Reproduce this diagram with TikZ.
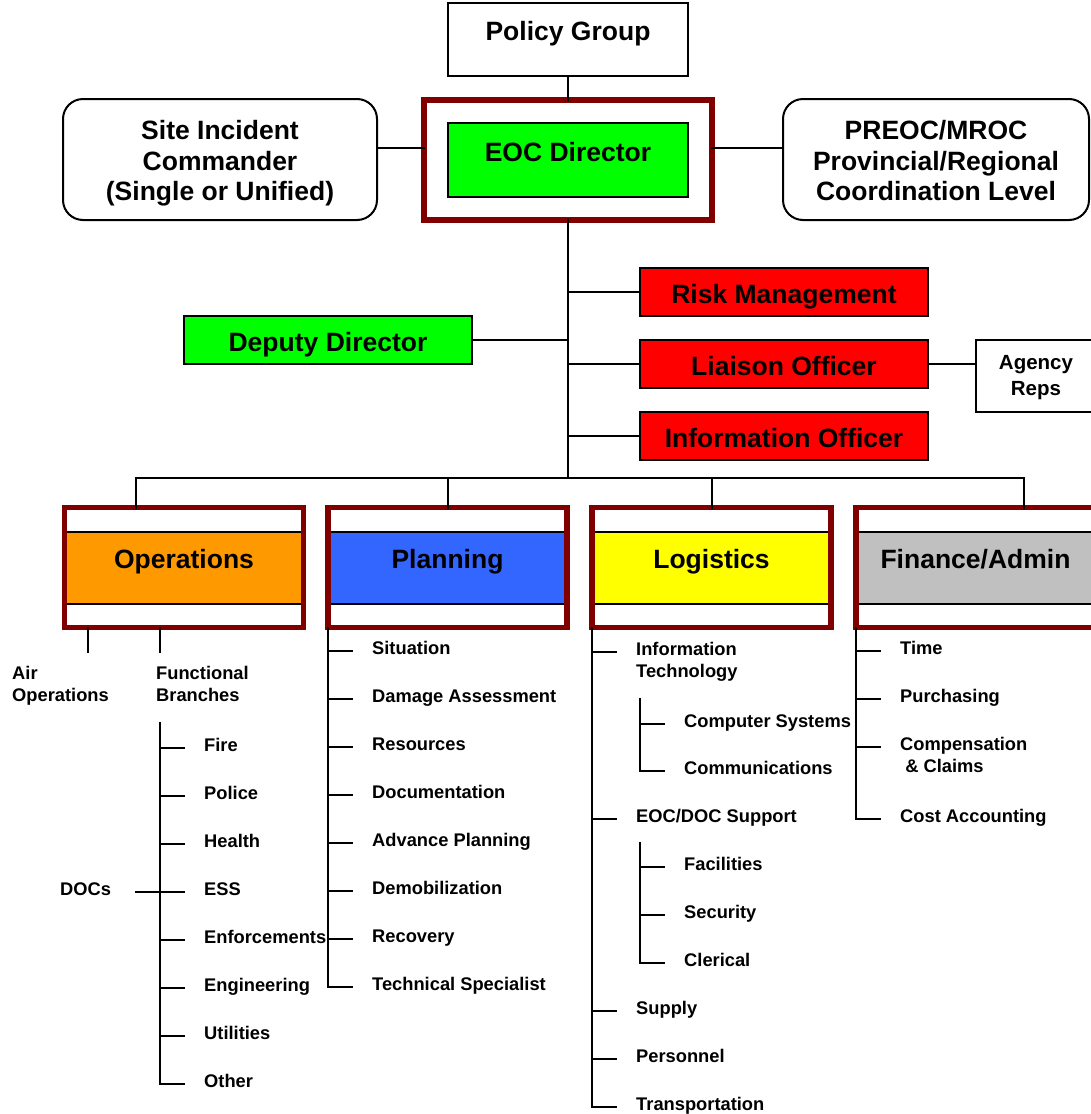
\documentclass[tikz,border=0pt]{standalone}
\usepackage{fontspec}
\setmainfont{Liberation Sans}
\newcommand\FBig{\fontsize{26.5}{30.5}\selectfont\bfseries}
\newcommand\FMid{\fontsize{20.5}{26}\selectfont\bfseries}
\newcommand\FSmall{\fontsize{18.3}{21.5}\selectfont\bfseries}
\definecolor{dred}{RGB}{128,0,0}
\definecolor{eocgreen}{RGB}{0,255,0}
\definecolor{cmdred}{RGB}{255,0,0}
\definecolor{opsorange}{RGB}{255,153,0}
\definecolor{planblue}{RGB}{51,102,255}
\definecolor{logyellow}{RGB}{255,255,0}
\definecolor{fingray}{RGB}{192,192,192}
\tikzset{
  conn/.style={line width=2pt, line cap=rect},
  plainbox/.style={draw, line width=2pt, inner sep=0pt},
  shell/.style={draw=dred, line width=5.5pt, inner sep=0pt, outer sep=0pt},
  band/.style={draw, line width=2pt, inner sep=0pt, minimum width=239, minimum height=72},
  bigtext/.style={font=\FBig, inner sep=0pt, text height=19pt, text depth=0pt},
  multitext/.style={font=\FBig, inner sep=0pt, align=center, anchor=north},
  leaf/.style={font=\FSmall, inner sep=0pt, anchor=west, text height=13.1pt, text depth=0pt},
  leaftwo/.style={font=\FSmall, inner sep=0pt, align=left, anchor=north west},
}
% one list entry: name, trunk x, cap-centre y, text
\newcommand\leafitem[4]{%
  \node[leaf] (#1) at (#2+44,#3) {#4};
  \draw[conn] ([xshift=-44pt,yshift=-3pt]#1.west) -- ++(24,0);}
\begin{document}
\begin{tikzpicture}[x=1pt,y=-1pt]
\useasboundingbox (0,0) rectangle (1091,1114);
\fill[white] (0,0) rectangle (1091,1114);
\clip (0,0) rectangle (1091,1114);

% ---------- top level ----------
\node[plainbox, minimum width=240, minimum height=73] (policy) at (568,39.5) {};
\node[bigtext] (policyT) at (568,31) {Policy Group};

\node[shell, minimum width=288, minimum height=120] (eocshell) at (568,160) {};
\node[plainbox, fill=eocgreen, minimum width=240, minimum height=74] (eoc) at (568,160) {};
\node[bigtext] (eocT) at (568,152) {EOC Director};

\node[plainbox, rounded corners=20, minimum width=314, minimum height=121] (site) at (220,159.5) {};
\node[multitext] (siteT) at (220,120.3) {Site Incident\\Commander\\(Single or Unified)};

\node[plainbox, rounded corners=20, minimum width=306, minimum height=121] (preoc) at (936,159.5) {};
\node[multitext] (preocT) at (936,120.3) {PREOC/MROC\\Provincial/Regional\\Coordination Level};

\coordinate (hline) at (0,148);
\draw[conn] (policy) -- (eocshell);
\draw[conn] (site.east |- hline) -- (eocshell.west |- hline);
\draw[conn] (eocshell.east |- hline) -- (preoc.west |- hline);

% ---------- command staff ----------
\node[plainbox, fill=eocgreen, minimum width=288, minimum height=48] (deputy) at (328,340) {};
\node[bigtext] (deputyT) at (328,342) {Deputy Director};
\node[plainbox, fill=cmdred, minimum width=288, minimum height=48] (risk) at (784,292) {};
\node[bigtext] (riskT) at (784,294) {Risk Management};
\node[plainbox, fill=cmdred, minimum width=288, minimum height=48] (liaison) at (784,364) {};
\node[bigtext] (liaisonT) at (784,366) {Liaison Officer};
\node[plainbox, fill=cmdred, minimum width=288, minimum height=48] (info) at (784,436) {};
\node[bigtext] (infoT) at (784,437.5) {Information Officer};
\node[plainbox, minimum width=120, minimum height=72] (agency) at (1036,376) {};
\node[font=\FMid, inner sep=0pt, align=center, anchor=north] (agencyT) at (1036,355.6) {Agency\\Reps};

\coordinate (bar) at (568,478);
\draw[conn] (eocshell.south) -- (bar);
\draw[conn] (deputy.east) -- (deputy.east -| bar);
\draw[conn] (risk.west -| bar) -- (risk.west);
\draw[conn] (liaison.west -| bar) -- (liaison.west);
\draw[conn] (info.west -| bar) -- (info.west);
\draw[conn] (liaison.east) -- (agency.west |- liaison.east);

% ---------- sections ----------
\node[band, fill=opsorange] (opsband) at (184,568) {};
\node[band, fill=planblue] (planband) at (447.5,568) {};
\node[band, fill=logyellow] (logband) at (711.5,568) {};
\node[band, fill=fingray] (finband) at (975.5,568) {};
\node[shell, minimum width=239, minimum height=120] (ops) at (184,567.5) {};
\node[shell, minimum width=239, minimum height=120] (plan) at (447.5,567.5) {};
\node[shell, minimum width=239, minimum height=120] (logi) at (711.5,567.5) {};
\node[shell, minimum width=239, minimum height=120] (fin) at (975.5,567.5) {};
\node[bigtext] (opsT) at (184,559) {Operations};
\node[bigtext] (planT) at (447.5,559) {Planning};
\node[bigtext] (logiT) at (711.5,559) {Logistics};
\node[bigtext] (finT) at (975.5,559) {Finance/Admin};

\coordinate (dA) at (136,478);
\coordinate (dB) at (448,478);
\coordinate (dC) at (712,478);
\coordinate (dD) at (1024,478);
\draw[conn] (dA) -- (dD);
\draw[conn] (dA) -- (dA |- ops.north);
\draw[conn] (dB) -- (dB |- plan.north);
\draw[conn] (dC) -- (dC |- logi.north);
\draw[conn] (dD) -- (dD |- fin.north);

% ---------- Operations ----------
\coordinate (airdrop) at (88,652);
\coordinate (fbdrop) at (160,652);
\draw[conn] (airdrop |- ops.south) -- (airdrop);
\draw[conn] (fbdrop |- ops.south) -- (fbdrop);
\node[leaftwo] (air) at (12,666.2) {Air\\Operations};
\node[leaftwo] (fb) at (156,666.2) {Functional\\Branches};
\coordinate (fbtop) at (160,723);
\leafitem{fire}{160}{745}{Fire}
\leafitem{police}{160}{793}{Police}
\leafitem{health}{160}{841}{Health}
\leafitem{ess}{160}{889}{ESS}
\leafitem{enf}{160}{937}{Enforcements}
\leafitem{eng}{160}{985}{Engineering}
\leafitem{util}{160}{1033}{Utilities}
\leafitem{other}{160}{1081}{Other}
\draw[conn] (fbtop) -- ([xshift=-44pt,yshift=-3pt]other.west);
\node[leaf] (docs) at (60,889) {DOCs};
\draw[conn] ([xshift=25pt,yshift=-3pt]docs.east) -- ([xshift=-44pt,yshift=-3pt]ess.west);

% ---------- Planning ----------
\leafitem{sit}{328}{648}{Situation}
\leafitem{dmg}{328}{696}{Damage Assessment}
\leafitem{res}{328}{744}{Resources}
\leafitem{doc}{328}{792}{Documentation}
\leafitem{adv}{328}{840}{Advance Planning}
\leafitem{demob}{328}{888}{Demobilization}
\leafitem{recov}{328}{936}{Recovery}
\leafitem{tech}{328}{984}{Technical Specialist}
\draw[conn] (plan.south west) -- ([xshift=-44pt,yshift=-3pt]tech.west);

% ---------- Logistics ----------
\node[leaftwo] (it) at (636,642.5) {Information\\Technology};
\draw[conn] ([xshift=-44pt,yshift=-9.5pt]it.north west) -- ++(24,0);
\coordinate (ittop) at (640,699);
\leafitem{comp}{640}{720.7}{Computer Systems}
\leafitem{comm}{640}{768}{Communications}
\draw[conn] (ittop) -- ([xshift=-44pt,yshift=-3pt]comm.west);
\leafitem{eocdoc}{592}{816}{EOC/DOC Support}
\coordinate (suptop) at (640,843);
\leafitem{fac}{640}{864}{Facilities}
\leafitem{sec}{640}{912}{Security}
\leafitem{cler}{640}{960}{Clerical}
\draw[conn] (suptop) -- ([xshift=-44pt,yshift=-3pt]cler.west);
\leafitem{supply}{592}{1008}{Supply}
\leafitem{pers}{592}{1056}{Personnel}
\leafitem{trans}{592}{1104}{Transportation}
\draw[conn] (logi.south west) -- ([xshift=-44pt,yshift=-3pt]trans.west);

% ---------- Finance/Admin ----------
\leafitem{time}{856}{648}{Time}
\leafitem{purch}{856}{696}{Purchasing}
\node[leaftwo] (comp2) at (900,737.5) {Compensation\\\ \& Claims};
\draw[conn] ([xshift=-44pt,yshift=-9.5pt]comp2.north west) -- ++(24,0);
\leafitem{cost}{856}{816}{Cost Accounting}
\draw[conn] (fin.south west) -- ([xshift=-44pt,yshift=-3pt]cost.west);
\end{tikzpicture}
\end{document}
